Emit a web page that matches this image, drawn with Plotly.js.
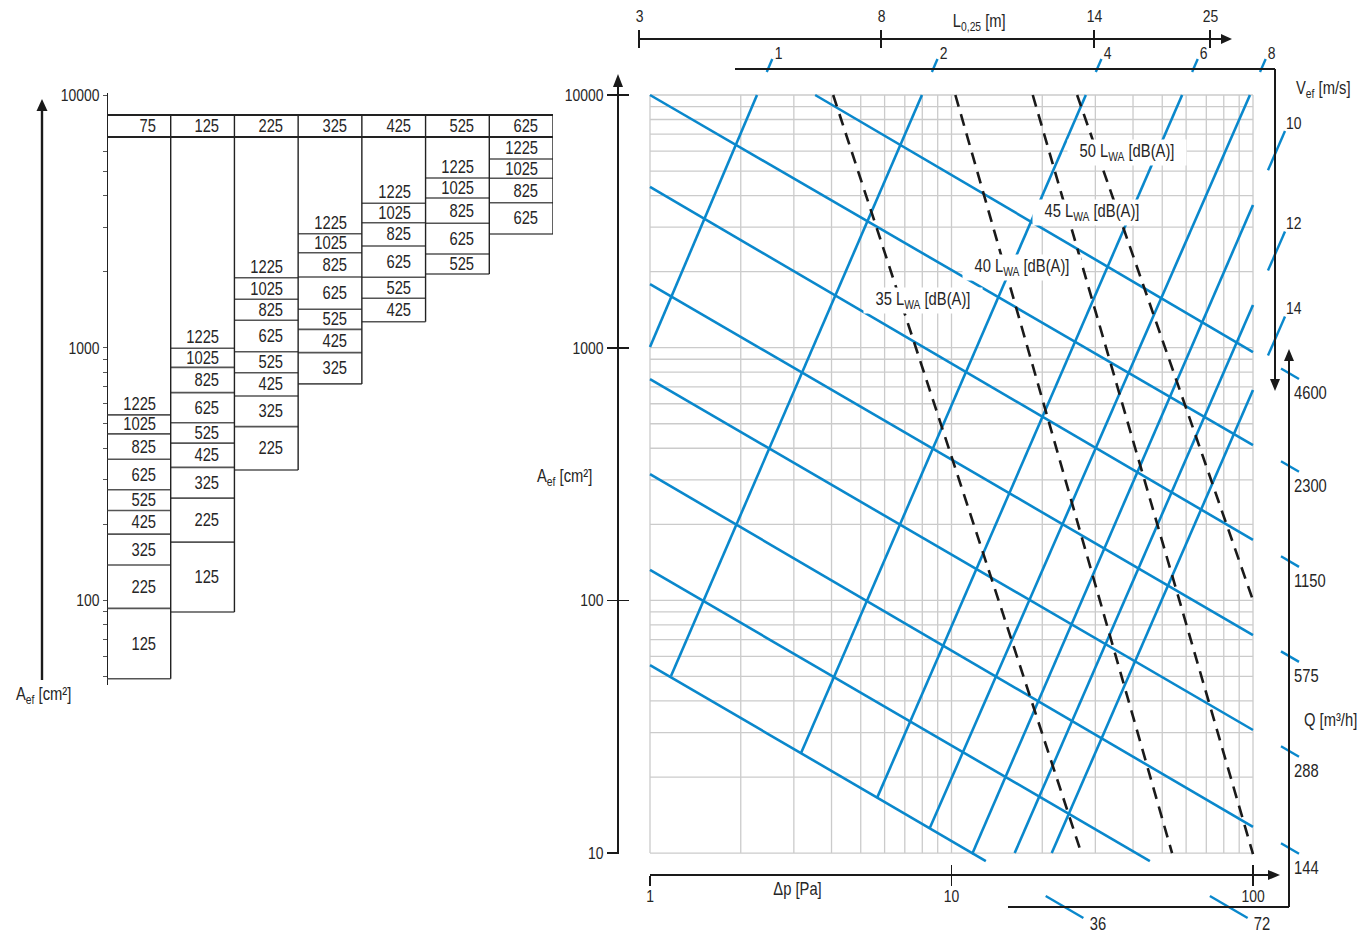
<!DOCTYPE html>
<html>
<head>
<meta charset="utf-8">
<script src="https://cdn.plot.ly/plotly-3.0.1.min.js"></script>
<style>
html,body{margin:0;padding:0;background:#ffffff;}
#chart{width:1357px;height:938px;}
</style>
</head>
<body>
<div id="chart"></div>
<script>
// ================= DATA =================
// Left table: grille heights (header) and widths (cells) [mm]
const gridHeights = ['75', '125', '225', '325', '425', '525', '625'];
const gridWidths  = ['125', '225', '325', '425', '525', '625', '825', '1025', '1225'];
// Lower edge of each width cell = A_ef [cm²], one array per height column (null = no cell)
const aef75  = [49, 93, 138, 183, 227, 274, 362, 456, 542];
const aef125 = [90, 170, 254, 336, 419, 505, 664, 836, 995];
const aef225 = [null, 328, 487, 644, 796, 964, 1284, 1554, 1892];
const aef325 = [null, null, 719, 956, 1182, 1419, 1905, 2376, 2826];
const aef425 = [null, null, null, 1267, 1569, 1899, 2526, 3124, 3727];
const aef525 = [null, null, null, null, 1957, 2349, 3107, 3912, 4693];
const aef625 = [null, null, null, null, null, 2818, 3748, 4681, 5580];

// Air-volume lines Q [m³/h]: start/end as (Δp [Pa], A_ef [cm²])
const qLabels  = ['4600', '2300', '1150', '575', '288', '144', '72', '36'];
const qStartDp = [3.53, 1, 1, 1, 1, 1, 1, 1];
const qStartA  = [10000, 10000, 4325, 1786, 751, 316, 132, 55.5];
const qEndDp   = [100, 100, 100, 100, 100, 100, 45.5, 13.0];
const qEndA    = [961, 412, 173.5, 72.9, 30.7, 12.7, 9.3, 9.3];

// Face-velocity lines V_ef [m/s]
const vLabels  = ['1', '2', '4', '6', '8', '10', '12', '14'];
const vStartDp = [1, 1.174, 3.17, 5.66, 8.48, 11.7, 16.2, 21.5];
const vStartA  = [1006, 50.2, 24.9, 16.5, 12.6, 9.9, 10, 10];
const vEndDp   = [2.264, 7.98, 27.9, 58.2, 97.7, 100, 100, 100];
const vEndA    = [10000, 10000, 10000, 10000, 10000, 3673, 1475, 680];

// Sound power lines L_WA [dB(A)] (dashed)
const lwaLabels  = ['35', '40', '45', '50'];
const lwaStartDp = [4.05, 10.3, 18.6, 26.1];
const lwaStartA  = [10000, 10000, 10000, 10000];
const lwaEndDp   = [27.1, 53.9, 100, 100];
const lwaEndA    = [9.8, 10, 9.9, 100];

// Tick labels
const dpTicks = [1, 10, 100];
const aTicks = [10, 100, 1000, 10000];
const tableMajorTicks = [100, 1000, 10000];
const lTickLabels = ['3', '8', '14', '25'];

// ================= LAYOUT CONSTANTS =================
const W = 1357, H = 938;
const FONT = "'Liberation Sans', Arial, sans-serif";
const CONDENSE = 0.82;            // the reference uses a condensed face
const TXT = '#262626';
const BLUE = '#0a88cc';
const INK = '#1a1a1a';
// pixel calibration of the shared log scales
const X1PX = 650, XDEC = 301.5;   // Δp = 1 at x=650 px, px per decade
const Y4PX = 95, YDEC = 252.7;    // A = 10000 at y=95 px, px per decade
const lxOf = px => (px - X1PX) / XDEC;
const lyOf = py => 4 - (py - Y4PX) / YDEC;
const pxOfLx = lx => X1PX + lx * XDEC;
const pyOfLy = ly => Y4PX + (4 - ly) * YDEC;
const PX = px => px / W;
const PY = py => 1 - py / H;

// table geometry
const TAB_L = 107, TAB_R = 553, HEAD_T = 115, HEAD_B = 137, HEAD_MID = 126;
// decorative axes
const L_Y = 39, L_X0 = 639, L_X1 = 1221, L_TICK_PX = [639, 881, 1094, 1210];
const V_TOP_Y = 69, V_X0 = 735, V_RIGHT_X = 1275, V_ARROW_TIP = 391;
const Q_BOT_Y = 907, Q_X0 = 1008, Q_RIGHT_X = 1289, Q_ARROW_TIP = 349;

const traces = [];
const seg = () => ({x: [], y: []});
function addSeg(s, x0, y0, x1, y1) { s.x.push(x0, x1, null); s.y.push(y0, y1, null); }

// ---- main grid ----
const vGrid = [], hGrid = [];
const dpMin = dpTicks[0], dpMax = dpTicks[dpTicks.length - 1], aMin = aTicks[0], aMax = aTicks[aTicks.length - 1];
for (let d = dpMin; d < dpMax; d *= 10) for (let m = 1; m < 10; m++) vGrid.push(m * d);
vGrid.push(dpMax);
for (let d = aMin; d < aMax; d *= 10) for (let m = 1; m < 10; m++) hGrid.push(m * d);
hGrid.push(aMax);
const g = seg();
vGrid.forEach(v => addSeg(g, v, aMin, v, aMax));
hGrid.forEach(h => addSeg(g, dpMin, h, dpMax, h));
traces.push({type: 'scatter', mode: 'lines', x: g.x, y: g.y, xaxis: 'x', yaxis: 'y',
  line: {color: '#cbcbcb', width: 1.3}, hoverinfo: 'skip', showlegend: false});

// ---- blue Q and V lines ----
const b = seg();
qLabels.forEach((_, i) => addSeg(b, qStartDp[i], qStartA[i], qEndDp[i], qEndA[i]));
vLabels.forEach((_, i) => addSeg(b, vStartDp[i], vStartA[i], vEndDp[i], vEndA[i]));
traces.push({type: 'scatter', mode: 'lines', x: b.x, y: b.y, xaxis: 'x', yaxis: 'y',
  line: {color: BLUE, width: 2.6}, hoverinfo: 'skip', showlegend: false});

// ---- blue ticks on the V and Q scales (continuations of the lines) ----
function lineEq(x0, y0, x1, y1) {
  const a = Math.log10(x0), bb = Math.log10(y0), c = Math.log10(x1), d = Math.log10(y1);
  return {lx0: a, ly0: bb, s: (d - bb) / (c - a)};
}
const lyAt = (L, lx) => L.ly0 + (lx - L.lx0) * L.s;
const lxAt = (L, ly) => L.lx0 + (ly - L.ly0) / L.s;
const tk = seg();
const annotations = [];
const lab = (text, x, y, xa, ya, size, extra) => annotations.push(Object.assign({
  text, x: PX(x), y: PY(y), xref: 'paper', yref: 'paper', xanchor: xa, yanchor: ya, align: xa,
  showarrow: false, font: {family: FONT, size: size || 17, color: TXT}}, extra || {}));

vLabels.forEach((t, i) => {
  const L = lineEq(vStartDp[i], vStartA[i], vEndDp[i], vEndA[i]);
  if (vEndA[i] >= aMax) {           // reaches the top -> tick on the horizontal V scale
    const la = lyOf(V_TOP_Y + 3), lb = lyOf(V_TOP_Y - 10);
    addSeg(tk, Math.pow(10, lxAt(L, la)), Math.pow(10, la), Math.pow(10, lxAt(L, lb)), Math.pow(10, lb));
    const cx = pxOfLx(lxAt(L, lyOf(V_TOP_Y)));
    lab(t, cx + 10, V_TOP_Y - 16, 'center', 'middle');
  } else {                          // reaches the right edge -> tick on the vertical V scale
    const la = lxOf(V_RIGHT_X - 7), lb = lxOf(V_RIGHT_X + 10);
    addSeg(tk, Math.pow(10, la), Math.pow(10, lyAt(L, la)), Math.pow(10, lb), Math.pow(10, lyAt(L, lb)));
    const cy = pyOfLy(lyAt(L, lxOf(V_RIGHT_X)));
    lab(t, V_RIGHT_X + 9, cy - 31, 'left', 'middle');
  }
});
qLabels.forEach((t, i) => {
  const L = lineEq(qStartDp[i], qStartA[i], qEndDp[i], qEndA[i]);
  if (qEndDp[i] >= dpMax) {         // reaches the right edge -> vertical Q scale
    const la = lxOf(Q_RIGHT_X - 8), lb = lxOf(Q_RIGHT_X + 10);
    addSeg(tk, Math.pow(10, la), Math.pow(10, lyAt(L, la)), Math.pow(10, lb), Math.pow(10, lyAt(L, lb)));
    const cy = pyOfLy(lyAt(L, lxOf(Q_RIGHT_X)));
    lab(t, Q_RIGHT_X + 3, cy + 20, 'left', 'middle', 18);
  } else {                          // reaches the bottom -> horizontal Q scale
    const la = lyOf(Q_BOT_Y - 11), lb = lyOf(Q_BOT_Y + 11);
    addSeg(tk, Math.pow(10, lxAt(L, la)), Math.pow(10, la), Math.pow(10, lxAt(L, lb)), Math.pow(10, lb));
    const cx = pxOfLx(lxAt(L, lyOf(Q_BOT_Y)));
    lab(t, cx + 33, Q_BOT_Y + 17, 'center', 'middle', 18);
  }
});
traces.push({type: 'scatter', mode: 'lines', x: tk.x, y: tk.y, xaxis: 'x', yaxis: 'y',
  line: {color: BLUE, width: 2.4}, hoverinfo: 'skip', showlegend: false});

// ---- dashed L_WA lines ----
const dl = seg();
lwaLabels.forEach((_, i) => addSeg(dl, lwaStartDp[i], lwaStartA[i], lwaEndDp[i], lwaEndA[i]));
traces.push({type: 'scatter', mode: 'lines', x: dl.x, y: dl.y, xaxis: 'x', yaxis: 'y',
  line: {color: INK, width: 2.6, dash: '12px,8px'}, hoverinfo: 'skip', showlegend: false});
const LWA_LABEL_PX = [[923, 301], [1022, 267], [1092, 212], [1127, 153]];
lwaLabels.forEach((t, i) => lab(t + ' L<sub>WA</sub> [dB(A)]', LWA_LABEL_PX[i][0], LWA_LABEL_PX[i][1],
  'center', 'middle', 18, {bgcolor: '#ffffff', borderpad: 1}));

// ---- left table ----
const columns = [aef75, aef125, aef225, aef325, aef425, aef525, aef625];
const headTopA = Math.pow(10, lyOf(HEAD_T)), headBotA = Math.pow(10, lyOf(HEAD_B));
const th = seg(), tv = seg(), thead = seg();
addSeg(thead, 0, headTopA, columns.length, headTopA);
addSeg(thead, 0, headBotA, columns.length, headBotA);
const colMin = columns.map(c => Math.min(...c.filter(v => v != null)));
for (let k = 0; k <= columns.length; k++) {
  const lows = [];
  if (k > 0) lows.push(colMin[k - 1]);
  if (k < columns.length) lows.push(colMin[k]);
  addSeg(tv, k, headTopA, k, Math.min(...lows));
}
columns.forEach((col, c) => {
  annotations.push({text: gridHeights[c], x: c + 1, xref: 'x2', y: PY(HEAD_MID), yref: 'paper',
    xanchor: 'right', align: 'right', yanchor: 'middle', xshift: -13, showarrow: false,
    font: {family: FONT, size: 18, color: TXT}});
  col.forEach((a, r) => {
    if (a == null) return;
    addSeg(th, c, a, c + 1, a);
    const next = r + 1 < col.length ? col[r + 1] : null;
    const ann = {text: gridWidths[r], x: c + 1, xref: 'x2', yref: 'y', xanchor: 'right', align: 'right', xshift: -13,
      showarrow: false, font: {family: FONT, size: 18, color: TXT}};
    if (next != null) { ann.y = (Math.log10(a) + Math.log10(next)) / 2; ann.yanchor = 'middle'; }
    else { ann.y = Math.log10(a); ann.yanchor = 'bottom'; ann.yshift = -1; }
    annotations.push(ann);
  });
});
traces.push({type: 'scatter', mode: 'lines', x: th.x, y: th.y, xaxis: 'x2', yaxis: 'y',
  line: {color: '#555555', width: 1.6}, hoverinfo: 'skip', showlegend: false});
traces.push({type: 'scatter', mode: 'lines', x: tv.x, y: tv.y, xaxis: 'x2', yaxis: 'y',
  line: {color: '#222222', width: 1.4}, hoverinfo: 'skip', showlegend: false});
traces.push({type: 'scatter', mode: 'lines', x: thead.x, y: thead.y, xaxis: 'x2', yaxis: 'y',
  line: {color: '#222222', width: 1.8}, hoverinfo: 'skip', showlegend: false});

// dummy traces so that display axes are drawn
[['x3', 'y'], ['x4', 'y'], ['x', 'y3'], ['x', 'y4'], ['x', 'y5'], ['x', 'y6']].forEach(p =>
  traces.push({type: 'scatter', mode: 'lines', x: [], y: [], xaxis: p[0], yaxis: p[1], hoverinfo: 'skip', showlegend: false}));

// ---- minor tick positions for the table's A axis ----
const tableMinorTicks = [50, 60, 70, 80, 90];
for (let d = 100; d <= 1000; d *= 10) for (let m = 2; m < 10; m++) tableMinorTicks.push(m * d);
tableMinorTicks.splice(tableMinorTicks.indexOf(7000));   // hidden behind the header row

// ---- shapes: decorative scales and arrows ----
const shapes = [];
const lineShape = (x0, y0, x1, y1, w) => shapes.push({type: 'line', xref: 'paper', yref: 'paper',
  x0: PX(x0), y0: PY(y0), x1: PX(x1), y1: PY(y1), line: {color: INK, width: w || 1.8}});
function arrow(x, y, dir, len, half) {
  let p;
  if (dir === 'up') p = [[x, y], [x - half, y + len], [x + half, y + len]];
  else if (dir === 'down') p = [[x, y], [x - half, y - len], [x + half, y - len]];
  else p = [[x, y], [x - len, y - half], [x - len, y + half]];
  shapes.push({type: 'path', xref: 'paper', yref: 'paper', fillcolor: INK, line: {width: 0},
    path: 'M' + p.map(q => PX(q[0]) + ',' + PY(q[1])).join(' L') + ' Z'});
}
// left table arrow
lineShape(42, 680, 42, 110, 2.4); arrow(42, 99, 'up', 12, 5.5);
// right plot A axis arrow
arrow(618, 74, 'up', 13, 5);
// Δp axis arrow
arrow(1280, 875, 'right', 12, 5);
// L_0,25 scale
lineShape(L_X0, L_Y, L_X1, L_Y, 2); arrow(1232, L_Y, 'right', 11, 5);
L_TICK_PX.forEach((x, i) => { lineShape(x, L_Y - 9, x, L_Y + 9, 2); lab(lTickLabels[i], x, 17, 'center', 'middle'); });
// V_ef scale
lineShape(V_X0, V_TOP_Y, V_RIGHT_X, V_TOP_Y, 2);
lineShape(V_RIGHT_X, V_TOP_Y, V_RIGHT_X, V_ARROW_TIP - 11, 2);
arrow(V_RIGHT_X, V_ARROW_TIP, 'down', 12, 5);
// Q scale
lineShape(Q_X0, Q_BOT_Y, Q_RIGHT_X, Q_BOT_Y, 2);
lineShape(Q_RIGHT_X, Q_BOT_Y, Q_RIGHT_X, Q_ARROW_TIP + 11, 2);
arrow(Q_RIGHT_X, Q_ARROW_TIP, 'up', 12, 5);

// ---- axis titles ----
lab('A<sub>ef</sub> [cm²]', 14, 695, 'left', 'middle', 18);
lab('A<sub>ef</sub> [cm²]', 535, 477, 'left', 'middle', 18);
lab('Δp [Pa]', 797, 889, 'center', 'middle', 18);
lab('L<sub>0,25</sub> [m]', 979, 22, 'center', 'middle', 18);
lab('V<sub>ef</sub> [m/s]', 1294, 90, 'left', 'middle', 18);
lab('Q [m³/h]', 1302, 720, 'left', 'middle', 18);

const tickFont = {family: FONT, size: 17, color: TXT};
const baseAx = {showgrid: false, zeroline: false, fixedrange: true};
const yTab = {type: 'log', domain: [PY(685), PY(93)], range: [lyOf(685), lyOf(93)], anchor: 'free', position: PX(TAB_L), side: 'left'};
const yMain = {type: 'log', domain: [PY(854), PY(86)], range: [lyOf(854), lyOf(86)], anchor: 'free', position: PX(618), side: 'left'};
const xMain = {type: 'log', domain: [PX(X1PX), PX(1269)], range: [0, lxOf(1269)], anchor: 'free', position: PY(875), side: 'bottom'};
const layout = {
  width: W, height: H, autosize: false,
  margin: {l: 0, r: 0, t: 0, b: 0, pad: 0},
  paper_bgcolor: '#ffffff', plot_bgcolor: 'rgba(0,0,0,0)',
  showlegend: false, hovermode: false,
  font: {family: FONT, size: 17, color: TXT},
  xaxis: Object.assign({}, baseAx, {type: 'log', domain: [0, 1], range: [lxOf(0), lxOf(W)], visible: false, anchor: 'y'}),
  yaxis: Object.assign({}, baseAx, {type: 'log', domain: [0, 1], range: [lyOf(H), lyOf(0)], visible: false, anchor: 'x'}),
  xaxis2: Object.assign({}, baseAx, {type: 'linear', domain: [PX(TAB_L), PX(TAB_R)], range: [0, 7], visible: false, anchor: 'y'}),
  xaxis3: Object.assign({}, baseAx, xMain, {showline: true, linecolor: INK, linewidth: 2,
    ticks: 'outside', ticklen: 10, tickwidth: 1.6, tickcolor: INK, ticklabelstandoff: -4,
    tickvals: dpTicks, ticktext: dpTicks.map(String), tickfont: tickFont}),
  xaxis4: Object.assign({}, baseAx, xMain, {showline: false,
    ticks: 'inside', ticklen: 10, tickwidth: 1.6, tickcolor: INK, tickvals: dpTicks, showticklabels: false}),
  yaxis3: Object.assign({}, baseAx, yTab, {showline: true, linecolor: '#222222', linewidth: 1.4,
    ticks: 'outside', ticklen: 4, tickwidth: 1, tickcolor: '#555555',
    tickvals: tableMinorTicks, showticklabels: false}),
  yaxis6: Object.assign({}, baseAx, yTab, {showline: false,
    ticks: 'outside', ticklen: 4, tickwidth: 1, tickcolor: '#555555',
    tickvals: tableMajorTicks, ticktext: tableMajorTicks.map(String), tickfont: tickFont}),
  yaxis4: Object.assign({}, baseAx, yMain, {showline: true, linecolor: INK, linewidth: 2,
    ticks: 'outside', ticklen: 10, tickwidth: 1.6, tickcolor: INK,
    tickvals: aTicks, ticktext: aTicks.map(String), tickfont: tickFont}),
  yaxis5: Object.assign({}, baseAx, yMain, {showline: false,
    ticks: 'inside', ticklen: 10, tickwidth: 1.6, tickcolor: INK, tickvals: aTicks, showticklabels: false}),
  shapes: shapes,
  annotations: annotations
};

// narrow every text horizontally (around its anchor) to mimic the condensed typeface of the reference
function condense() {
  document.querySelectorAll('#chart svg text').forEach(t => {
    if (!t.textContent || !t.textContent.trim()) return;
    const base = parseFloat(getComputedStyle(t).fontSize) || 17;
    t.querySelectorAll('tspan').forEach(s => {
      const fs = s.style.fontSize;
      if (fs && fs.indexOf('%') >= 0) s.style.fontSize = (base * parseFloat(fs) / 100).toFixed(1) + 'px';
      // merge an empty baseline-reset span with the text that follows it
      if (s.textContent.replace(/\u200b/g, '') === '' && s.nextSibling && s.nextSibling.nodeType === 3) {
        s.textContent = s.nextSibling.nodeValue;
        s.parentNode.removeChild(s.nextSibling);
      }
      if (!s.style.fontSize) s.style.fontSize = base + 'px';
      s.setAttribute('font-size', s.style.fontSize);
    });
    const x = parseFloat(t.getAttribute('x')) || 0;
    const tr = t.getAttribute('transform') || '';
    t.setAttribute('transform', (tr + ' translate(' + x + ',0) scale(' + CONDENSE + ',1) translate(' + (-x) + ',0)').trim());
  });
}

Plotly.newPlot('chart', traces, layout, {staticPlot: true, displayModeBar: false}).then(condense);
</script>
</body>
</html>
